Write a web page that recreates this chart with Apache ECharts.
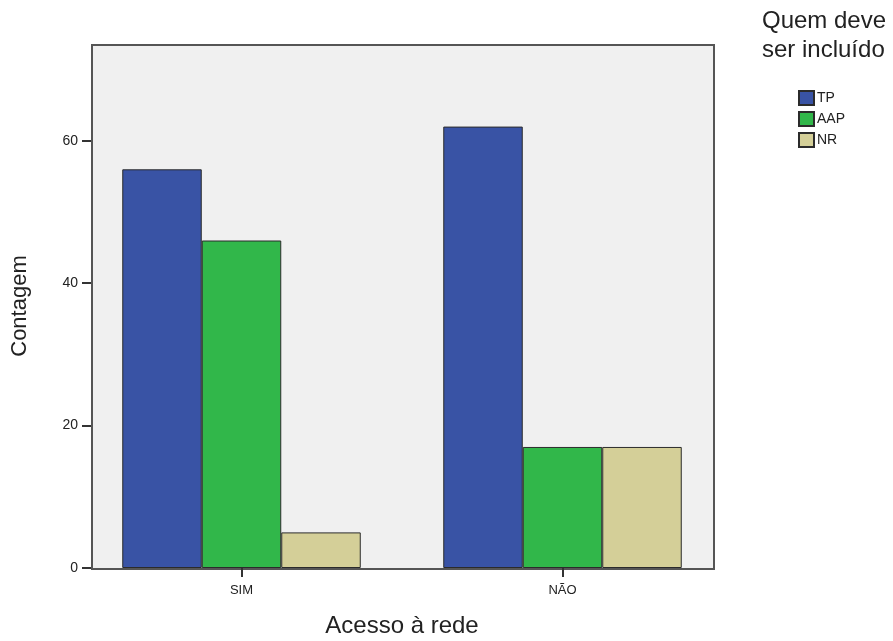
<!DOCTYPE html>
<html><head><meta charset="utf-8">
<script src="https://cdn.jsdelivr.net/npm/echarts@6/dist/echarts.min.js"></script>
<style>html,body{margin:0;padding:0;background:#fff}#c{width:893px;height:641px}</style>
</head><body><div id="c"></div>
<script>
const categories = ['SIM', 'NÃO'];
const seriesNames = ['TP', 'AAP', 'NR'];
const tpValues = [56, 62];
const aapValues = [46, 17];
const nrValues = [5, 17];
const yTicks = [0, 20, 40, 60];

const colors = ['#3953a5', '#31b74a', '#d4cf98'];
const chart = echarts.init(document.getElementById('c'));
const font = 'Arial, "Liberation Sans", sans-serif';
const mk = (name, data, i) => ({
  name, type: 'bar', data, barWidth: 79.5, barGap: '0%',
  itemStyle: { color: colors[i], borderColor: '#2b2b2b', borderWidth: 1 },
  z: 5
});
chart.setOption({
  animation: false,
  textStyle: { fontFamily: font },
  title: {
    text: 'Quem deve\nser incluído', left: 762, top: 7, padding: 0,
    textStyle: { fontSize: 24, fontWeight: 'normal', color: '#222', lineHeight: 29, fontFamily: font }
  },
  legend: {
    data: seriesNames, orient: 'vertical', left: 798, top: 90, padding: 0,
    itemWidth: 15, itemHeight: 14, itemGap: 5,
    textStyle: { fontSize: 14, color: '#222', padding: [0, 0, 0, -2] },
    icon: 'rect'
  },
  graphic: [{
    type: 'rect', left: 91, top: 44, z: -10, silent: true,
    shape: { width: 622, height: 524 },
    style: { fill: '#f0f0f0', stroke: '#555', lineWidth: 2 }
  }],
  grid: { left: 81, right: 170, top: 44, bottom: 73, containLabel: false, outerBoundsMode: 'none' },
  xAxis: {
    type: 'category', data: categories,
    name: 'Acesso à rede', nameLocation: 'middle', nameGap: 46,
    nameTextStyle: { fontSize: 24, color: '#222' },
    axisLine: { show: false },
    axisTick: { show: true, alignWithLabel: true, length: 9, lineStyle: { color: '#333', width: 2 } },
    axisLabel: { fontSize: 13, color: '#222', margin: 16 }
  },
  yAxis: {
    type: 'value', min: 0, max: 73.6, interval: 20, offset: -10,
    name: 'Contagem', nameLocation: 'middle', nameGap: 60,
    nameTextStyle: { fontSize: 22, color: '#222' },
    axisLine: { show: false },
    axisTick: { show: true, length: 9, lineStyle: { color: '#333', width: 2 } },
    axisLabel: { fontSize: 14, color: '#222', margin: 13, showMaxLabel: false,
      formatter: v => yTicks.includes(v) ? String(v) : '' },
    splitLine: { show: false }
  },
  series: [mk(seriesNames[0], tpValues, 0), mk(seriesNames[1], aapValues, 1), mk(seriesNames[2], nrValues, 2)]
});
</script></body></html>
